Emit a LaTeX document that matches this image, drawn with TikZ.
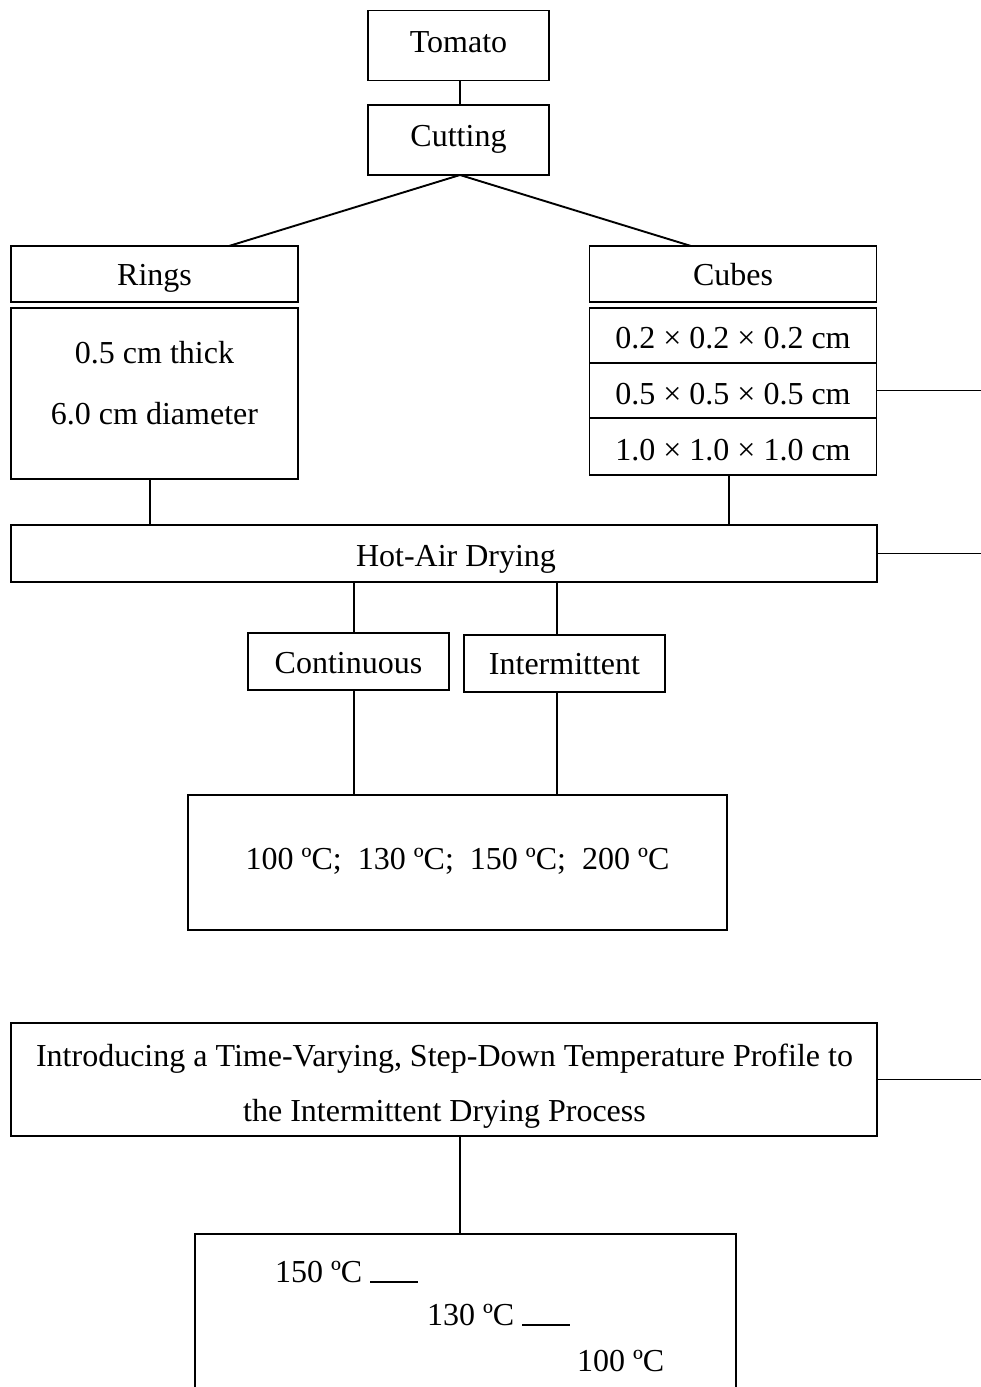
\documentclass[tikz,border=0pt]{standalone}
\usepackage{fontspec}
\setmainfont{Liberation Serif}
\begin{document}
\begin{tikzpicture}[x=1pt,y=-1pt,
  box/.style={draw,line width=1.9pt,inner sep=0pt,outer sep=0pt},
  conn/.style={line width=1.9pt},
  txt/.style={inner sep=0pt,outer sep=0pt,anchor=base},
  font=\fontsize{32}{55}\selectfont]
\useasboundingbox (0,0) rectangle (981,1387);
\coordinate (edge) at (981,0);

% boxes
\node[box,minimum width=181pt,minimum height=70pt] (tomato) at (458.5,45.5) {};
\node[box,minimum width=181pt,minimum height=70pt] (cutting) at (458.5,140) {};
\node[box,minimum width=287pt,minimum height=56pt] (rings) at (154.5,274) {};
\node[box,minimum width=287pt,minimum height=171pt] (ringsd) at (154.5,393.5) {};
\node[box,minimum width=287pt,minimum height=56pt] (cubes) at (733,274) {};
\node[box,minimum width=287pt,minimum height=55pt] (c1) at (733,335.5) {};
\node[box,minimum width=287pt,minimum height=55pt] (c2) at (733,390.5) {};
\node[box,minimum width=287pt,minimum height=57pt] (c3) at (733,446.5) {};
\node[box,minimum width=866pt,minimum height=57pt] (hot) at (444,553.5) {};
\node[box,minimum width=201pt,minimum height=57pt] (cont) at (348.5,661.5) {};
\node[box,minimum width=201pt,minimum height=57pt] (inter) at (564.5,663.5) {};
\node[box,minimum width=539pt,minimum height=135pt] (temps) at (457.5,862.5) {};
\node[box,minimum width=866pt,minimum height=113pt] (intro) at (444,1079.5) {};
\coordinate (btop) at (460,1234);
\draw[conn] (195,1387) -- (195,1234) -- (btop) -- (736,1234) -- (736,1387);

% texts
\node[txt] (tomatot) at (458.5,52) {Tomato};
\node[txt] (cuttingt) at (458.5,146) {Cutting};
\node[txt] (ringst) at (154.5,285.5) {Rings};
\node[txt] (ringsd1) at (154.5,363) {0.5 cm thick};
\node[txt] (ringsd2) at (154.5,424) {6.0 cm diameter};
\node[txt] (cubest) at (733,285.5) {Cubes};
\node[txt] (c1t) at (733,348) {0.2 × 0.2 × 0.2 cm};
\node[txt] (c2t) at (733,404) {0.5 × 0.5 × 0.5 cm};
\node[txt] (c3t) at (733,460) {1.0 × 1.0 × 1.0 cm};
\node[txt] (hott) at (456,566) {Hot-Air Drying};
\node[txt] (contt) at (348.5,673) {Continuous};
\node[txt] (intert) at (564.5,674) {Intermittent};
\node[txt] (tempst) at (457.5,869) {100 ºC;~ 130 ºC;~ 150 ºC;~ 200 ºC};
\node[txt] (intro1) at (444.5,1066) {Introducing a Time-Varying, Step-Down Temperature Profile to};
\node[txt] (intro2) at (444.5,1121) {the Intermittent Drying Process};
\node[txt,anchor=base west] (s1) at (275,1282) {150 ºC \rule[-1pt]{48pt}{2pt}};
\node[txt,anchor=base west] (s2) at (427,1325) {130 ºC \rule[-1pt]{48pt}{2pt}};
\node[txt,anchor=base west] (s3) at (577,1371) {100 ºC};

% connectors
\draw[conn] ([xshift=1.5pt]tomato.south) -- ([xshift=1.5pt]cutting.north);
\draw[conn] ([xshift=74.5pt]rings.north) -- ([xshift=1.5pt]cutting.south) -- ([xshift=-42pt]cubes.north);
\draw[conn] ([xshift=-4.5pt]ringsd.south) -- ([xshift=-4.5pt]ringsd.south |- hot.north);
\draw[conn] ([xshift=-4pt]c3.south) -- ([xshift=-4pt]c3.south |- hot.north);
\draw[conn] (c2.east) -- (c2.east -| edge);
\draw[conn] (hot.east) -- (hot.east -| edge);
\draw[conn] ([xshift=5.5pt]cont.north) -- ([xshift=5.5pt]cont.north |- hot.south);
\draw[conn] ([xshift=-7.5pt]inter.north) -- ([xshift=-7.5pt]inter.north |- hot.south);
\draw[conn] ([xshift=5.5pt]cont.south) -- ([xshift=5.5pt]cont.south |- temps.north);
\draw[conn] ([xshift=-7.5pt]inter.south) -- ([xshift=-7.5pt]inter.south |- temps.north);
\draw[conn] (intro.east) -- (intro.east -| edge);
\draw[conn] ([xshift=16pt]intro.south) -- (btop);
\end{tikzpicture}
\end{document}
